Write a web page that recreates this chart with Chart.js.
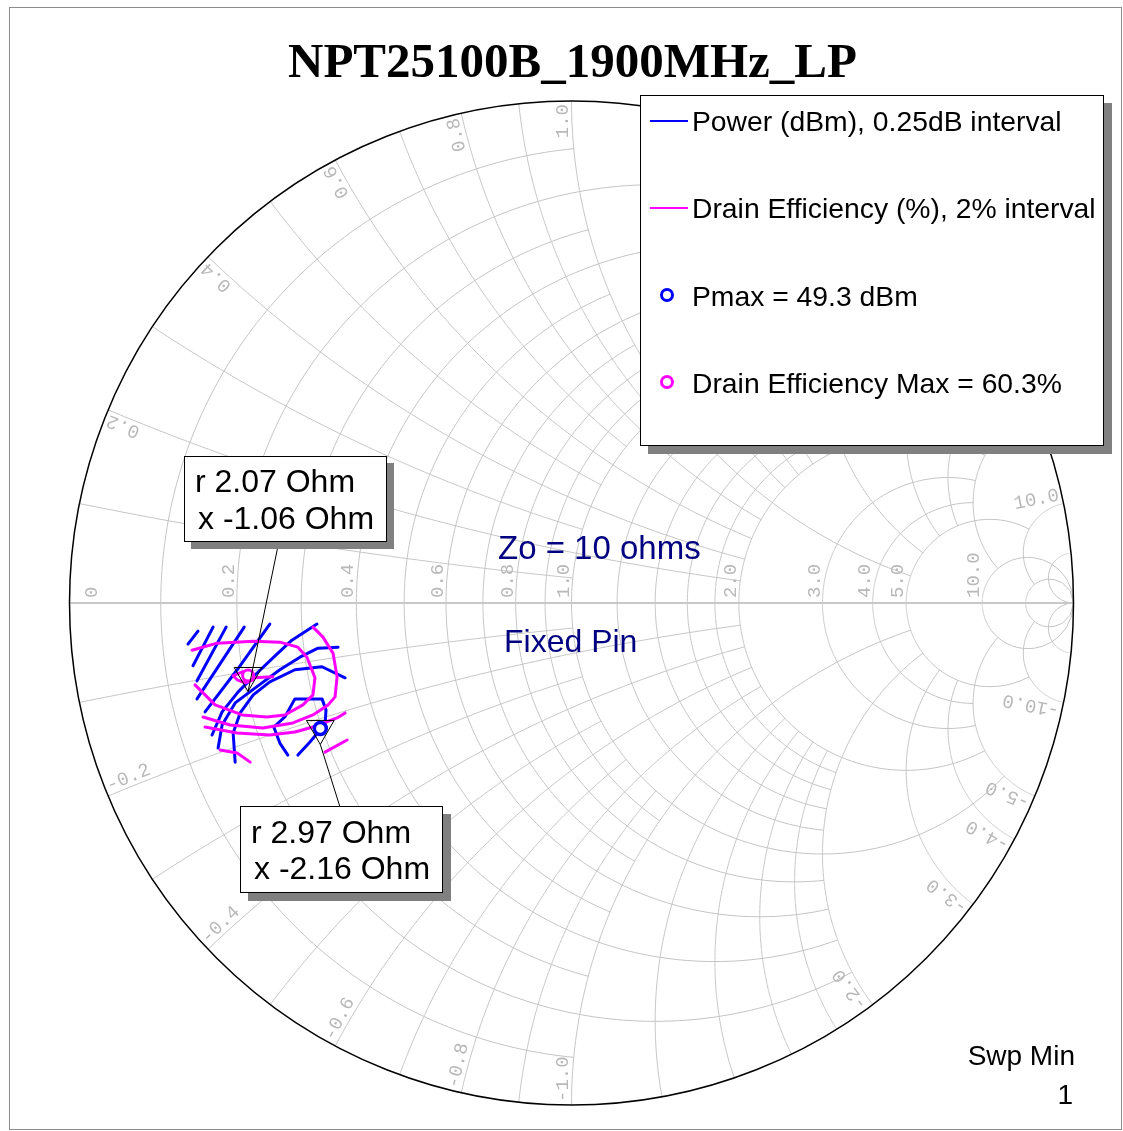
<!DOCTYPE html>
<html>
<head>
<meta charset="utf-8">
<title>NPT25100B_1900MHz_LP</title>
<script src="https://cdn.jsdelivr.net/npm/chart.js@4.4.1/dist/chart.umd.min.js"></script>
<style>
body { margin: 0; background: #fff; }
#wrap { position: relative; width: 1123px; height: 1131px; overflow: hidden; font-family: "Liberation Sans", Arial, sans-serif; }
#frame { position: absolute; left: 9px; top: 7px; width: 1111px; height: 1121px; border: 1px solid #8c8c8c; }
#chart { position: absolute; left: 0; top: 0; }
.txt { position: absolute; white-space: pre; line-height: 1; color: #000; }
.box { position: absolute; background: #fff; border: 1px solid #000; box-shadow: 8px 8px 0 #808080; }
.swatch { position: absolute; height: 2px; width: 38px; }
.ring { position: absolute; width: 8px; height: 8px; border-radius: 50%; border: 3.5px solid; }
</style>
</head>
<body>
<div id="wrap">
  <div id="frame"></div>
  <canvas id="chart" width="1123" height="1131"></canvas>

  <div class="txt" style="left:572.5px; top:36px; transform:translateX(-50%); font-family:'Liberation Serif','Times New Roman',serif; font-weight:bold; font-size:49px;">NPT25100B_1900MHz_LP</div>

  <div class="box" style="left:640px; top:95px; width:462px; height:349px;"></div>
  <div class="swatch" style="left:650px; top:120px; background:#0000ff;"></div>
  <div class="txt" style="left:692px; top:107px; font-size:28.3px;">Power (dBm), 0.25dB interval</div>
  <div class="swatch" style="left:650px; top:207px; background:#ff00ff;"></div>
  <div class="txt" style="left:692px; top:194px; font-size:28.3px;">Drain Efficiency (%), 2% interval</div>
  <div class="ring" style="left:660px; top:288px; border-color:#0000ff;"></div>
  <div class="txt" style="left:692px; top:282px; font-size:28.3px;">Pmax = 49.3 dBm</div>
  <div class="ring" style="left:660px; top:375px; border-color:#ff00ff;"></div>
  <div class="txt" style="left:692px; top:369px; font-size:28.3px;">Drain Efficiency Max = 60.3%</div>

  <div class="box" style="left:184px; top:456px; width:201px; height:84px; box-shadow:7px 7px 0 #808080;"></div>
  <div class="txt" style="left:195px; top:465px; font-size:32px;">r 2.07 Ohm</div>
  <div class="txt" style="left:198px; top:502px; font-size:32px;">x -1.06 Ohm</div>

  <div class="box" style="left:240px; top:806px; width:201px; height:85px;"></div>
  <div class="txt" style="left:251px; top:816px; font-size:32px;">r 2.97 Ohm</div>
  <div class="txt" style="left:254px; top:852px; font-size:32px;">x -2.16 Ohm</div>

  <div class="txt" style="left:498px; top:531px; font-size:33px; color:#000080;">Zo = 10 ohms</div>
  <div class="txt" style="left:504px; top:625px; font-size:32px; color:#000080;">Fixed Pin</div>

  <div class="txt" style="right:48px; top:1042px; font-size:28px;">Swp Min</div>
  <div class="txt" style="right:50px; top:1081px; font-size:28px;">1</div>
</div>

<script>
// reference impedance and the two marked impedances (ohms)
const Z0 = 10;
const effMaxImpedance = [2.07, -1.06];
const pmaxImpedance = [2.97, -2.16];

// smith grid: normalised values and how far each line runs
const gridR = [0.1, 0.2, 0.3, 0.4, 0.5, 0.6, 0.7, 0.8, 0.9, 1.0, 1.2, 1.4, 1.6, 1.8, 2.0, 3.0, 4.0, 5.0, 10, 20];
const gridRLimit = [1, 2, 1, 2, 1, 2, 1, 2, 1, 5, 2, 2, 2, 2, 5, 5, 5, 10, Infinity, Infinity];
const gridX = [0.1, 0.2, 0.3, 0.4, 0.5, 0.6, 0.7, 0.8, 0.9, 1.0, 1.2, 1.4, 1.6, 1.8, 2.0, 3.0, 4.0, 5.0, 10, 20];
const gridXLimit = [1, 2, 1, 2, 1, 2, 1, 2, 1, 5, 2, 2, 2, 2, 5, 5, 5, 10, 20, Infinity];
const rLabels = [0, 0.2, 0.4, 0.6, 0.8, 1.0, 2.0, 3.0, 4.0, 5.0, 10.0];
const xLabels = [0.2, 0.4, 0.6, 0.8, 1.0, 2.0, 3.0, 4.0, 5.0, 10.0];

// load-pull contours, reflection coefficient [re, im]
const power1 = [[-0.764, -0.082], [-0.744, -0.056]];
const power2 = [[-0.754, -0.125], [-0.714, -0.048]];
const power3 = [[-0.746, -0.155], [-0.688, -0.048]];
const power4 = [[-0.746, -0.191], [-0.652, -0.048]];
const power5 = [[-0.730, -0.217], [-0.666, -0.133], [-0.601, -0.042]];
const power6 = [[-0.716, -0.263], [-0.696, -0.217], [-0.664, -0.177], [-0.630, -0.143], [-0.591, -0.106], [-0.557, -0.074], [-0.507, -0.042]];
const power7 = [[-0.704, -0.289], [-0.696, -0.243], [-0.670, -0.199], [-0.630, -0.169], [-0.581, -0.133], [-0.541, -0.108], [-0.505, -0.090], [-0.465, -0.088]];
const power8 = [[-0.670, -0.317], [-0.674, -0.259], [-0.660, -0.219], [-0.634, -0.183], [-0.601, -0.157], [-0.551, -0.133], [-0.497, -0.127], [-0.451, -0.149]];
const power9 = [[-0.565, -0.303], [-0.581, -0.279], [-0.593, -0.247], [-0.571, -0.227], [-0.551, -0.191], [-0.497, -0.191], [-0.489, -0.213], [-0.491, -0.243], [-0.501, -0.253], [-0.521, -0.277], [-0.545, -0.303]];

const eff1 = [[-0.674, -0.145], [-0.656, -0.137], [-0.636, -0.141], [-0.634, -0.153], [-0.650, -0.159], [-0.666, -0.153], [-0.674, -0.145]];
const eff2 = [[-0.634, -0.149], [-0.595, -0.147]];
const eff3 = [[-0.756, -0.094], [-0.706, -0.080], [-0.634, -0.076], [-0.581, -0.078], [-0.545, -0.088], [-0.527, -0.108], [-0.511, -0.149], [-0.515, -0.183], [-0.535, -0.203], [-0.571, -0.223], [-0.607, -0.227], [-0.656, -0.223], [-0.710, -0.203], [-0.750, -0.163]];
const eff4 = [[-0.734, -0.227], [-0.680, -0.243], [-0.615, -0.249], [-0.555, -0.239], [-0.515, -0.223], [-0.485, -0.203], [-0.471, -0.187], [-0.467, -0.147], [-0.475, -0.100], [-0.495, -0.068], [-0.515, -0.048]];
const eff5 = [[-0.730, -0.247], [-0.666, -0.259], [-0.601, -0.263], [-0.551, -0.257], [-0.515, -0.247], [-0.467, -0.229], [-0.451, -0.219]];
const eff6 = [[-0.700, -0.293], [-0.666, -0.299], [-0.640, -0.317]];
const eff7 = [[-0.491, -0.297], [-0.447, -0.273]];

const powerContours = [power1, power2, power3, power4, power5, power6, power7, power8, power9];
const effContours = [eff1, eff2, eff3, eff4, eff5, eff6, eff7];

// where the marker leader lines meet the annotation boxes
const leaderEnds = [[279, 541], [340, 807]];

function gammaOf(r, x) {
    const d = (r + 1) * (r + 1) + x * x;
    return [(r * r + x * x - 1) / d, 2 * x / d];
}

const effMaxG = gammaOf(effMaxImpedance[0] / Z0, effMaxImpedance[1] / Z0);
const pmaxG = gammaOf(pmaxImpedance[0] / Z0, pmaxImpedance[1] / Z0);

const toXY = c => c.map(p => ({ x: p[0], y: p[1] }));

const smithGrid = {
    id: 'smithGrid',
    beforeDatasetsDraw(chart) {
        const ctx = chart.ctx;
        const xs = chart.scales.x, ys = chart.scales.y;
        const P = g => [xs.getPixelForValue(g[0]), ys.getPixelForValue(g[1])];
        const steps = 240;

        ctx.save();
        ctx.strokeStyle = '#c4c4c4';
        ctx.lineWidth = 1;

        // constant resistance circles
        gridR.forEach((r, i) => {
            const lim = Math.atan(gridRLimit[i]);
            ctx.beginPath();
            for (let k = 0; k <= steps; k++) {
                const t = -lim + 2 * lim * k / steps;
                const p = P(gammaOf(r, Math.tan(t)));
                if (k === 0) ctx.moveTo(p[0], p[1]); else ctx.lineTo(p[0], p[1]);
            }
            ctx.stroke();
        });

        // constant reactance arcs
        gridX.forEach((x, i) => {
            const lim = Math.atan(gridXLimit[i]);
            [x, -x].forEach(xv => {
                ctx.beginPath();
                for (let k = 0; k <= steps; k++) {
                    const p = P(gammaOf(Math.tan(lim * k / steps), xv));
                    if (k === 0) ctx.moveTo(p[0], p[1]); else ctx.lineTo(p[0], p[1]);
                }
                ctx.stroke();
            });
        });

        // real axis
        const a = P([-1, 0]), b = P([1, 0]);
        ctx.strokeStyle = '#c8c8c8';
        ctx.lineWidth = 2;
        ctx.beginPath();
        ctx.moveTo(a[0], a[1]);
        ctx.lineTo(b[0], b[1]);
        ctx.stroke();

        // outer circle
        const c = P([0, 0]);
        const R = xs.getPixelForValue(1) - c[0];
        ctx.strokeStyle = '#000';
        ctx.lineWidth = 1.5;
        ctx.beginPath();
        ctx.arc(c[0], c[1], R, 0, Math.PI * 2);
        ctx.stroke();

        // tick labels
        ctx.font = "19px 'Liberation Mono', 'DejaVu Sans Mono', monospace";
        ctx.fillStyle = '#b8b8b8';
        ctx.textBaseline = 'alphabetic';

        rLabels.forEach(r => {
            const p = P([(r - 1) / (r + 1), 0]);
            const px = r === 0 ? p[0] + 27 : p[0] - 3;
            ctx.save();
            ctx.translate(px, p[1] - 5);
            ctx.rotate(-Math.PI / 2);
            ctx.textAlign = 'left';
            ctx.fillText(r === 0 ? '0' : r.toFixed(1), 0, 0);
            ctx.restore();
        });

        xLabels.forEach(v => {
            [v, -v].forEach(xv => {
                const e = gammaOf(0, xv);
                const th = Math.atan2(e[1], e[0]);
                const p = P([e[0] * 0.994, e[1] * 0.994]);
                ctx.save();
                ctx.translate(p[0], p[1]);
                if (xv > 0) {
                    ctx.rotate(-th);
                    ctx.textAlign = 'right';
                } else {
                    ctx.rotate(Math.atan2(Math.sin(th), -Math.cos(th)));
                    ctx.textAlign = 'left';
                }
                ctx.fillText(xv.toFixed(1), 0, -4);
                ctx.restore();
            });
        });
        ctx.restore();
    },
    afterDatasetsDraw(chart) {
        const ctx = chart.ctx;
        const xs = chart.scales.x, ys = chart.scales.y;
        ctx.save();
        ctx.strokeStyle = '#000';
        ctx.lineWidth = 1;
        [effMaxG, pmaxG].forEach((g, i) => {
            ctx.beginPath();
            ctx.moveTo(xs.getPixelForValue(g[0]), ys.getPixelForValue(g[1]) + 16);
            ctx.lineTo(leaderEnds[i][0], leaderEnds[i][1]);
            ctx.stroke();
        });
        ctx.restore();
    }
};

const datasets = [];
powerContours.forEach(c => datasets.push({
    data: toXY(c), showLine: true, borderColor: '#0000ff', borderWidth: 3,
    borderCapStyle: 'round', borderJoinStyle: 'round', pointRadius: 0, order: 3
}));
effContours.forEach(c => datasets.push({
    data: toXY(c), showLine: true, borderColor: '#ff00ff', borderWidth: 3,
    borderCapStyle: 'round', borderJoinStyle: 'round', pointRadius: 0, order: 2
}));
datasets.push({
    data: toXY([effMaxG]), pointStyle: 'circle', pointRadius: 5.5, pointBorderWidth: 3,
    pointBorderColor: '#ff00ff', pointBackgroundColor: '#fff', order: 1
});
datasets.push({
    data: toXY([pmaxG]), pointStyle: 'circle', pointRadius: 6, pointBorderWidth: 3.5,
    pointBorderColor: '#0000ff', pointBackgroundColor: '#fff', order: 1
});
datasets.push({
    data: toXY([effMaxG, pmaxG]), pointStyle: 'triangle', pointRadius: 16, pointRotation: 180,
    pointBorderWidth: 1, pointBorderColor: '#000', pointBackgroundColor: 'rgba(0,0,0,0)', order: 0
});

new Chart(document.getElementById('chart').getContext('2d'), {
    type: 'scatter',
    data: { datasets: datasets },
    options: {
        responsive: false,
        animation: false,
        events: [],
        layout: { padding: { left: 69.5, right: 49.5, top: 101, bottom: 26 } },
        scales: {
            x: { type: 'linear', min: -1, max: 1, display: false },
            y: { type: 'linear', min: -1, max: 1, display: false }
        },
        plugins: { legend: { display: false }, tooltip: { enabled: false }, title: { display: false } }
    },
    plugins: [smithGrid]
});
</script>
</body>
</html>
